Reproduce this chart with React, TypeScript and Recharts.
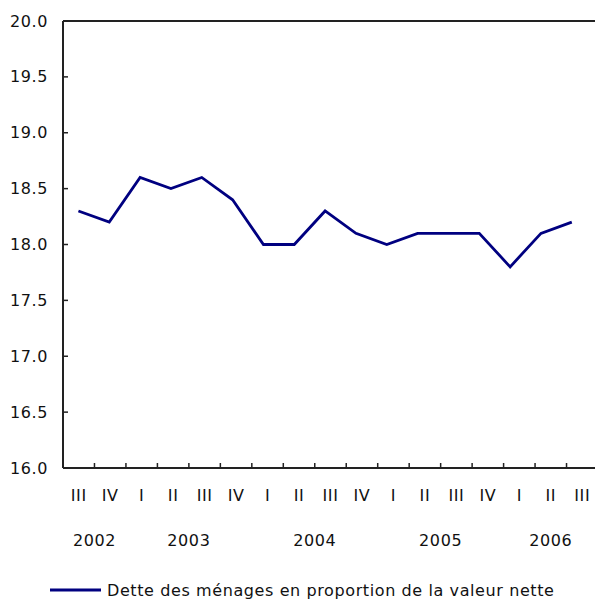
import React from 'react';
import { LineChart, Line, XAxis, YAxis, ReferenceLine, Legend } from 'recharts';

const quarters = ['III', 'IV', 'I', 'II', 'III', 'IV', 'I', 'II', 'III', 'IV', 'I', 'II', 'III', 'IV', 'I', 'II', 'III'];
const values = [18.3, 18.2, 18.6, 18.5, 18.6, 18.4, 18.0, 18.0, 18.3, 18.1, 18.0, 18.1, 18.1, 18.1, 17.8, 18.1, 18.2];
const years = ['2002', '2003', '2004', '2005', '2006'];
const quartersPerYear = [2, 4, 4, 4, 3];
const yTicks = [16.0, 16.5, 17.0, 17.5, 18.0, 18.5, 19.0, 19.5, 20.0];
const seriesName = 'Dette des ménages en proportion de la valeur nette';

const data = values.map((v, i) => ({ idx: i, q: quarters[i], value: v }));

const yearCenters: { year: string; center: number }[] = [];
{
  let start = 0;
  years.forEach((y, i) => {
    yearCenters.push({ year: y, center: start + (quartersPerYear[i] - 1) / 2 });
    start += quartersPerYear[i];
  });
}

const xTicks: number[] = [];
for (let k = 0; k <= (quarters.length - 1) * 2; k++) xTicks.push(k / 2);

const FONT = '"DejaVu Sans", sans-serif';
const TXT = '#111';
const AXIS = '#222';
const LINE = '#000080';

const YTick = (props: any) => {
  const { x, y, payload } = props;
  return (
    <g>
      <line x1={x} x2={x + 5} y1={y} y2={y} stroke={AXIS} strokeWidth={1.5} />
      <text x={x - 15} y={y} textAnchor="end" dominantBaseline="central" fontFamily={FONT} fontSize={16} letterSpacing={0.6} fill={TXT}>
        {Number(payload.value).toFixed(1)}
      </text>
    </g>
  );
};

const XTick = (props: any) => {
  const { x, y, payload } = props;
  const v = payload.value as number;
  const isInt = Math.abs(v - Math.round(v)) < 1e-6;
  const yc = yearCenters.find((c) => Math.abs(c.center - v) < 1e-6);
  return (
    <g>
      {isInt ? (
        <text x={x} y={y + 27} textAnchor="middle" dominantBaseline="central" fontFamily={FONT} fontSize={16} letterSpacing={0.6} fill={TXT}>
          {quarters[Math.round(v)]}
        </text>
      ) : (
        <line x1={x} x2={x} y1={y} y2={y - 5} stroke={AXIS} strokeWidth={1.5} />
      )}
      {yc ? (
        <text x={x} y={y + 72} textAnchor="middle" dominantBaseline="central" fontFamily={FONT} fontSize={16} letterSpacing={0.6} fill={TXT}>
          {yc.year}
        </text>
      ) : null}
    </g>
  );
};

const LegendContent = (props: any) => {
  const item = props.payload && props.payload[0];
  const label = item ? item.value : seriesName;
  const color = item ? item.color : LINE;
  return (
    <svg width={595} height={20} style={{ display: 'block' }}>
      <line x1={50} x2={101} y1={9} y2={9} stroke={color} strokeWidth={3} />
      <text x={107} y={9} dominantBaseline="central" fontFamily={FONT} fontSize={16} letterSpacing={0.6} fill={TXT}>
        {label}
      </text>
    </svg>
  );
};

export default function App() {
  return (
    <div style={{ position: 'absolute', left: 0, top: 0, width: 595, height: 601, overflow: 'hidden', background: '#fff' }}>
      <LineChart width={610} height={601} data={data} margin={{ top: 21, right: 12, left: 0, bottom: 0 }}>
        <XAxis
          xAxisId="label"
          dataKey="idx"
          type="number"
          domain={[-0.5, 16.5]}
          ticks={xTicks}
          interval={0}
          tick={<XTick />}
          tickLine={false}
          tickSize={0}
          tickMargin={0}
          height={113}
          axisLine={{ stroke: AXIS, strokeWidth: 2 }}
        />
        <XAxis xAxisId="line" dataKey="idx" type="number" domain={[-0.5, 16.85]} hide />
        <YAxis
          type="number"
          domain={[16, 20]}
          ticks={yTicks}
          interval={0}
          width={63}
          tick={<YTick />}
          tickLine={false}
          tickSize={0}
          tickMargin={0}
          axisLine={{ stroke: AXIS, strokeWidth: 2 }}
        />
        <ReferenceLine xAxisId="label" y={20} stroke={AXIS} strokeWidth={2} />
        <Line
          xAxisId="line"
          type="linear"
          dataKey="value"
          name={seriesName}
          stroke={LINE}
          strokeWidth={2.8}
          dot={false}
          isAnimationActive={false}
        />
        <Legend
          verticalAlign="bottom"
          align="left"
          content={<LegendContent />}
          wrapperStyle={{ left: 0, bottom: 0, width: 595, height: 20 }}
        />
      </LineChart>
    </div>
  );
}
